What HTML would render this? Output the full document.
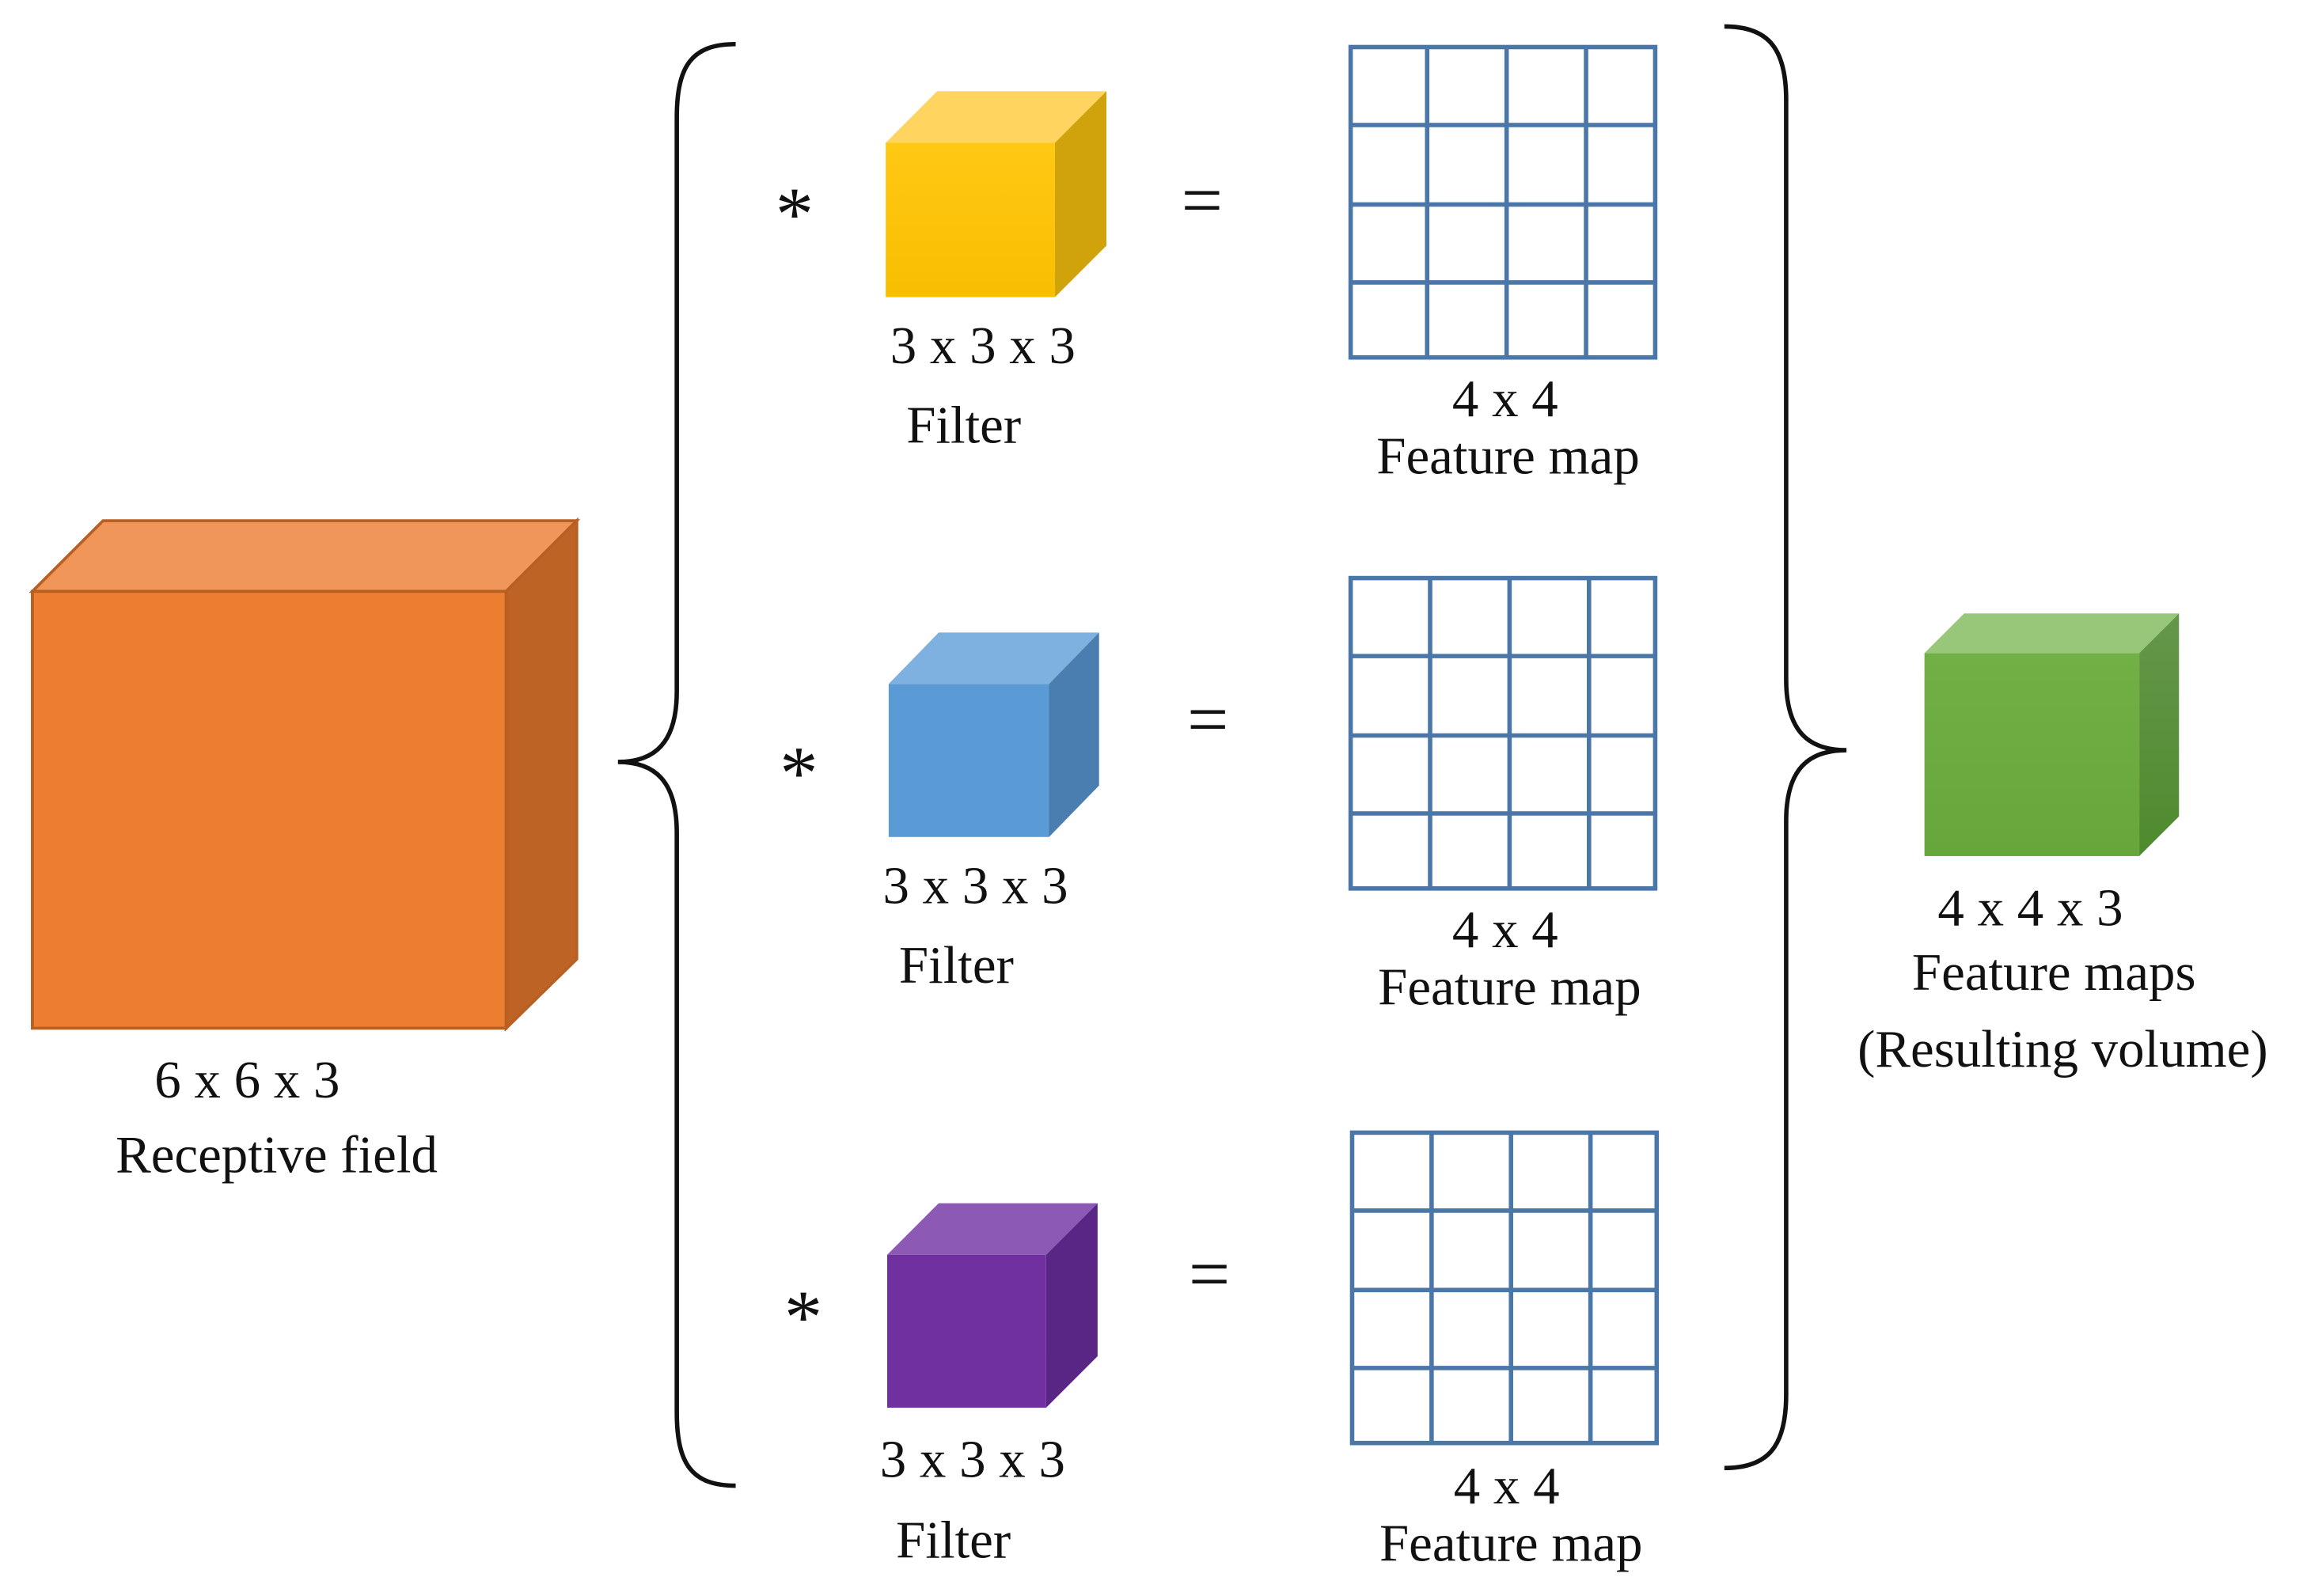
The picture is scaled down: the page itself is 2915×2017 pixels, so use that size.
<!DOCTYPE html>
<html><head><meta charset="utf-8"><style>html,body{margin:0;padding:0;background:#fff}svg{display:block}</style></head>
<body>
<svg width="2915" height="2017" viewBox="0 0 1568 1085" preserveAspectRatio="none" xmlns="http://www.w3.org/2000/svg" font-family="'Liberation Serif', serif" fill="#111">
<defs>
<linearGradient id="gf" x1="0" y1="0" x2="0" y2="1"><stop offset="0" stop-color="#72B046"/><stop offset="1" stop-color="#66A63A"/></linearGradient>
<linearGradient id="gs" x1="0" y1="0" x2="0" y2="1"><stop offset="0" stop-color="#65974A"/><stop offset="1" stop-color="#4F8A2E"/></linearGradient>
<linearGradient id="yf" x1="0" y1="0" x2="0" y2="1"><stop offset="0" stop-color="#FFC814"/><stop offset="1" stop-color="#F8BE00"/></linearGradient>
</defs>
<!-- orange cube -->
<g stroke="#B85F22" stroke-width="2">
<polygon points="22,402 70,354 392,354 344,402" fill="#F0965A"/>
<polygon points="344,402 392,354 392,652 344,699" fill="#BE6326"/>
<rect x="22" y="402" width="322" height="297" fill="#ED7D31"/>
</g>
<text x="168" y="746" font-size="36" text-anchor="middle">6 x 6 x 3</text>
<text x="188" y="797" font-size="36" text-anchor="middle">Receptive field</text>
<!-- braces -->
<path d="M500,30 C470,30 460,45 460,80 L460,470 C460,505 445,518 420,518 C445,518 460,531 460,566 L460,960 C460,995 470,1010 500,1010" fill="none" stroke="#111" stroke-width="3"/>
<path d="M1172,18 C1202,18 1214,33 1214,68 L1214,462 C1214,497 1229,510 1255,510 C1229,510 1214,523 1214,558 L1214,948 C1214,983 1202,998 1172,998" fill="none" stroke="#111" stroke-width="3"/>
<!-- yellow -->
<polygon points="602,97 637,62 752,62 717,97" fill="#FFD45F"/>
<polygon points="717,97 752,62 752,167 717,202" fill="#D0A20C"/>
<rect x="602" y="97" width="115" height="105" fill="url(#yf)"/>
<!-- blue -->
<polygon points="604,465 638,430 747,430 713,465" fill="#7EB0E0"/>
<polygon points="713,465 747,430 747,534 713,569" fill="#4A7EB0"/>
<rect x="604" y="465" width="109" height="104" fill="#5B9BD5"/>
<!-- purple -->
<polygon points="603,853 638,818 746,818 711,853" fill="#8C5AB4"/>
<polygon points="711,853 746,818 746,922 711,957" fill="#5A2685"/>
<rect x="603" y="853" width="108" height="104" fill="#7030A0"/>
<!-- green -->
<polygon points="1308,444 1335,417 1481,417 1454,444" fill="#98C77A"/>
<polygon points="1454,444 1481,417 1481,555 1454,582" fill="url(#gs)"/>
<rect x="1308" y="444" width="146" height="138" fill="url(#gf)"/>
<!-- operators -->
<g font-size="52" text-anchor="middle">
<text x="540" y="163">*</text><text x="543" y="543">*</text><text x="546" y="913">*</text>
</g>
<g font-size="50" text-anchor="middle">
<text x="817" y="153">=</text><text x="821" y="506">=</text><text x="822" y="883">=</text>
</g>
<!-- grids -->
<g fill="none" stroke="#4A76A8" stroke-width="3">
<rect x="918" y="32" width="207" height="211"/>
<path d="M970,32V243M1024,32V243M1078,32V243M918,85H1125M918,139H1125M918,192H1125"/>
<rect x="918" y="393" width="207" height="211"/>
<path d="M972,393V604M1026,393V604M1080,393V604M918,446H1125M918,500H1125M918,553H1125"/>
<rect x="919" y="770" width="207" height="211"/>
<path d="M973,770V981M1027,770V981M1081,770V981M919,823H1126M919,877H1126M919,930H1126"/>
</g>
<!-- labels -->
<g font-size="36" text-anchor="middle">
<text x="668" y="247">3 x 3 x 3</text><text x="655" y="301">Filter</text>
<text x="1023" y="283">4 x 4</text><text x="1025" y="322">Feature map</text>
<text x="663" y="614">3 x 3 x 3</text><text x="650" y="668">Filter</text>
<text x="1023" y="644">4 x 4</text><text x="1026" y="683">Feature map</text>
<text x="661" y="1004">3 x 3 x 3</text><text x="648" y="1059">Filter</text>
<text x="1024" y="1022">4 x 4</text><text x="1027" y="1061">Feature map</text>
<text x="1380" y="629">4 x 4 x 3</text>
<text x="1396" y="673">Feature maps</text>
<text x="1402" y="725">(Resulting volume)</text>
</g>
</svg>
</body></html>
